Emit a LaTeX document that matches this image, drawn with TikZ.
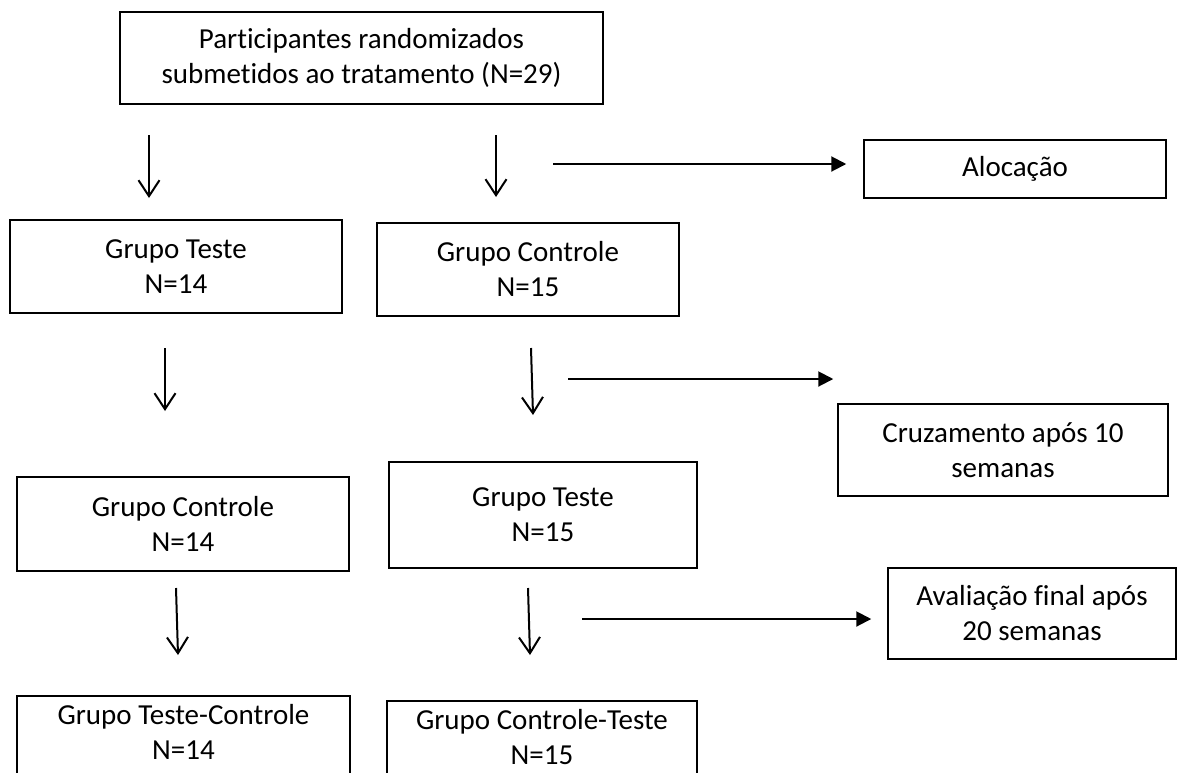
\documentclass[tikz,border=0pt]{standalone}
\usepackage{fontspec}
\setmainfont{Carlito}[Ligatures=NoCommon]
\usetikzlibrary{arrows.meta}

\tikzset{
    box/.style={draw, line width=1.5pt, align=center, inner sep=0pt,
        font=\fontsize{29}{35}\selectfont},
    openbox/.style={box, anchor=north, text height=64pt, text depth=60pt},
    down/.style={-{Straight Barb[length=16pt, width=21pt]}, line width=2pt},
    side/.style={-{Triangle[length=15pt, width=15pt]}, line width=2pt},
}

\begin{document}
\begin{tikzpicture}[x=1pt, y=-1pt]
    \useasboundingbox (0, 0) rectangle (1185, 772);
    \clip (0, 0) rectangle (1185, 772);
    % Boxes
    \node[box, minimum width=483, minimum height=92] (Part) at (361.5, 58)
        {Participantes randomizados\\submetidos ao tratamento (N=29)};
    \node[box, minimum width=302, minimum height=58] (Aloc) at (1015, 169) {Aloca\c{c}\~ao};
    \node[box, minimum width=332, minimum height=93] (TesteA) at (176, 266.5) {Grupo Teste\\N=14};
    \node[box, minimum width=302, minimum height=93] (ControleA) at (528, 269.5) {Grupo Controle\\N=15};
    \node[box, minimum width=330, minimum height=92] (Cruz) at (1003, 450) {Cruzamento ap\'os 10\\semanas};
    \node[box, minimum width=332, minimum height=94] (ControleB) at (183, 524) {Grupo Controle\\N=14};
    \node[box, minimum width=308, minimum height=106] (TesteB) at (543, 515) {Grupo Teste\\N=15};
    \node[box, minimum width=288, minimum height=91] (Aval) at (1032, 613.5) {Avalia\c{c}\~ao final ap\'os\\20 semanas};
    \node[openbox, minimum width=333] (TesteControle) at (183.5, 695) {Grupo Teste-Controle\\N=14};
    \node[openbox, minimum width=310] (ControleTeste) at (542, 700) {Grupo Controle-Teste\\N=15};
    % Arrows
    \coordinate (d1a) at (149, 135);  \coordinate (d1b) at (149, 198);
    \coordinate (d2a) at (496, 135);  \coordinate (d2b) at (496, 197);
    \coordinate (h1a) at (553, 164);
    \coordinate (d3a) at (165, 348);  \coordinate (d3b) at (165, 411);
    \coordinate (d4a) at (531, 348);  \coordinate (d4b) at (533, 415);
    \coordinate (h2a) at (568, 379);
    \coordinate (d5a) at (176, 588);  \coordinate (d5b) at (178, 655);
    \coordinate (d6a) at (528, 588);  \coordinate (d6b) at (530, 655);
    \coordinate (h3a) at (582, 619);
    \draw[down] (d1a) -- (d1b);
    \draw[down] (d2a) -- (d2b);
    \draw[side] (h1a) -- ([xshift=-17pt]Aloc.west |- h1a);
    \draw[down] (d3a) -- (d3b);
    \draw[down] (d4a) -- (d4b);
    \draw[side] (h2a) -- ([xshift=-4pt]Cruz.west |- h2a);
    \draw[down] (d5a) -- (d5b);
    \draw[down] (d6a) -- (d6b);
    \draw[side] (h3a) -- ([xshift=-16pt]Aval.west |- h3a);
\end{tikzpicture}
\end{document}
